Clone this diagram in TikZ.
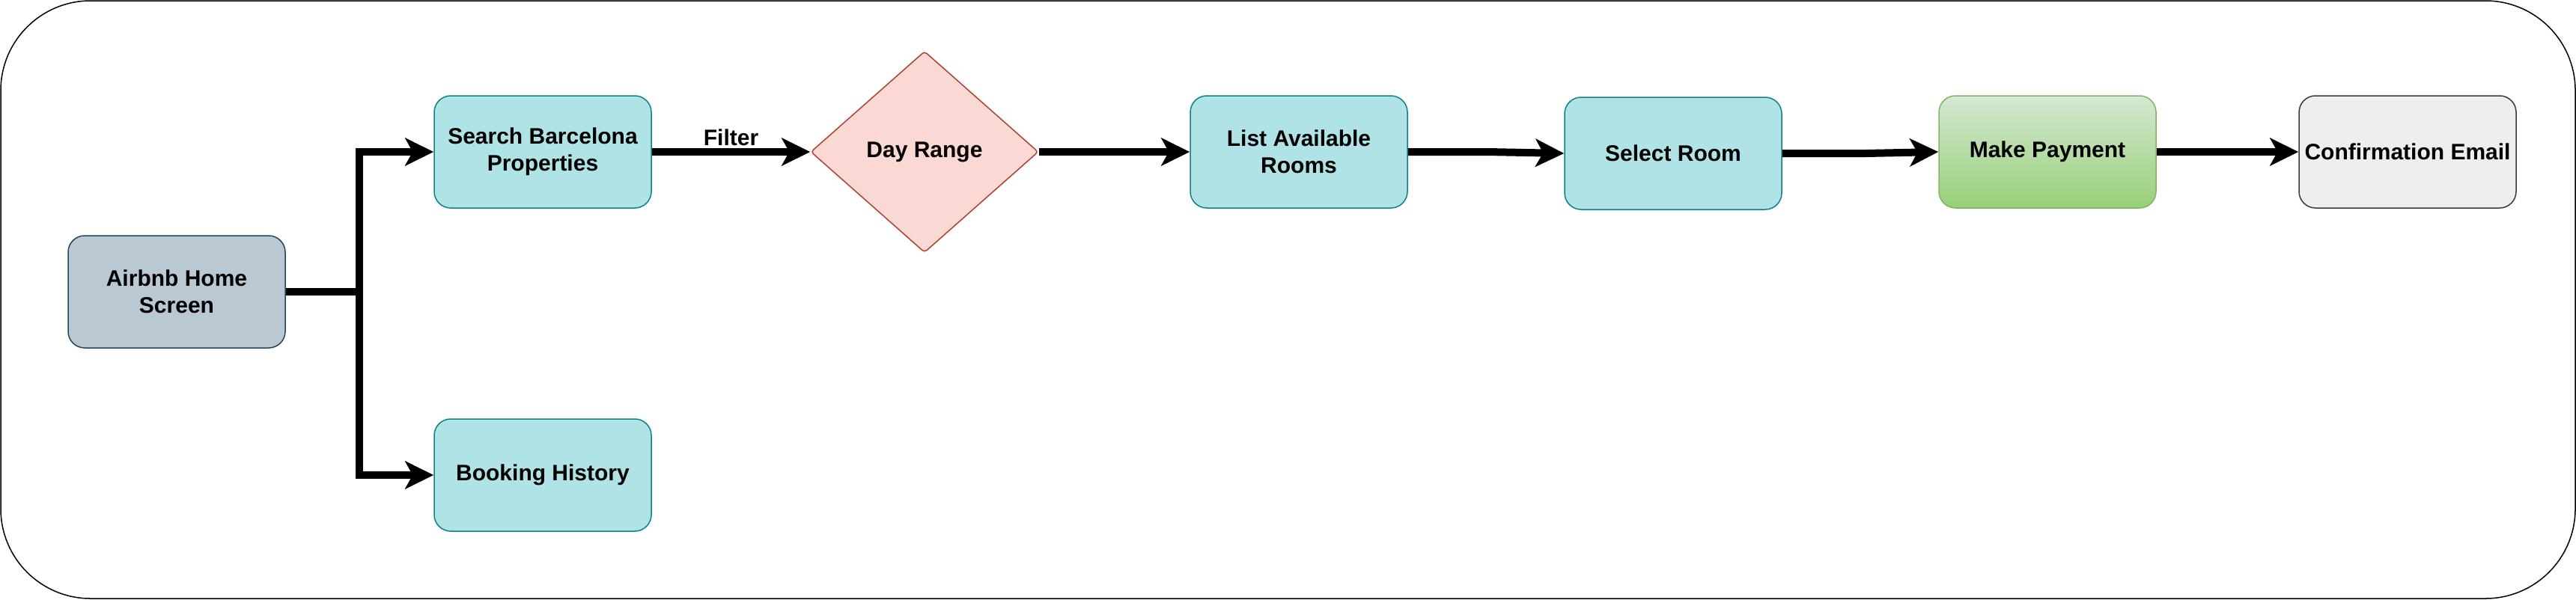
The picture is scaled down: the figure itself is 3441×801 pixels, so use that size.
\documentclass[tikz,border=0pt]{standalone}
\usepackage{fontspec}
\setmainfont{Liberation Sans}
\usepackage{xcolor}
\usepackage{tikz}
\usetikzlibrary{shapes,arrows.meta,positioning,calc}

\definecolor{homefill}{HTML}{BAC8D3}
\definecolor{homeline}{HTML}{23445D}
\definecolor{tealfill}{HTML}{B0E3E6}
\definecolor{tealline}{HTML}{0E8088}
\definecolor{dayfill}{HTML}{FAD9D5}
\definecolor{dayline}{HTML}{AE4132}
\definecolor{paytop}{HTML}{D5E8D4}
\definecolor{paybot}{HTML}{97D077}
\definecolor{payline}{HTML}{82B366}
\definecolor{mailfill}{HTML}{EEEEEE}
\definecolor{mailline}{HTML}{36393D}

\begin{document}
\begin{tikzpicture}[
    x=1pt, y=-1pt,
    every node/.style = {font=\fontsize{30}{36}\selectfont\bfseries, align=center},
    box/.style = {draw, rounded corners=22pt, minimum width=290pt, minimum height=150pt, line width=1.5pt},
    tealbox/.style = {box, fill=tealfill, draw=tealline},
    flow/.style = {line width=10pt, -{Stealth[length=38pt, width=37pt, inset=10pt]}}
  ]
  \useasboundingbox (0,0) rectangle (3441,801);
  % frame
  \draw[line width=1.5pt, rounded corners=120pt] (1,1) rectangle (3440,800);

  % nodes
  \node[box, fill=homefill, draw=homeline] (home) at (236,390) {Airbnb Home\\Screen};
  \node[tealbox] (search) at (725,203) {Search Barcelona\\Properties};
  \node[tealbox] (booking) at (725,635) {Booking History};
  \node[diamond, draw=dayline, fill=dayfill, line width=1.5pt, rounded corners=4pt,
        minimum width=304pt, minimum height=269pt, inner sep=0pt] (day) at (1235,203) {Day Range};
  \node[tealbox] (list) at (1735,203) {List Available\\Rooms};
  \node[tealbox] (select) at (2235,205) {Select Room};
  \node[box, top color=paytop, bottom color=paybot, draw=payline] (pay) at (2735,203) {Make Payment};
  \node[box, fill=mailfill, draw=mailline] (mail) at (3216,203) {Confirmation Email};

  % connectors
  \coordinate (split) at (480,390);
  \draw[line width=10pt] (home.east) -- (split);
  \draw[flow] (split) |- (search.west);
  \draw[flow] (split) |- (booking.west);
  \draw[flow] (search.east) -- node[above] {Filter} (day.west);
  \draw[flow] (day.east) -- (list.west);
  \draw[flow] (list.east) -- (1987,203) -- (select.west);
  \draw[flow] (select.east) -- (2493,205) -- (pay.west);
  \draw[flow] (pay.east) -- (mail.west);
\end{tikzpicture}
\end{document}
